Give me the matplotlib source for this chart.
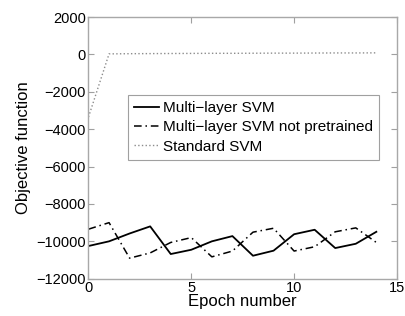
import numpy as np
import matplotlib
matplotlib.use("Agg")
from matplotlib import pyplot as plt

epochs = list(range(15))
multi_svm = [-10250, -10000, -9580, -9200, -10680, -10450, -10000, -9720,
             -10770, -10500, -9620, -9380, -10360, -10130, -9490]
multi_svm_np = [-9350, -9000, -10900, -10620, -10060, -9800, -10830, -10520,
                -9510, -9300, -10520, -10290, -9490, -9280, -10060]
standard_svm = [-3350, 30, 40, 45, 50, 55, 60, 60, 65, 70, 70, 75, 80, 80, 85]

plt.rcParams['font.family'] = ['Liberation Sans', 'DejaVu Sans']

fig = plt.figure(figsize=(4.05, 3.16), dpi=100)
ax = fig.add_axes([0.2185, 0.118, 0.7615, 0.828])

ax.plot(epochs, multi_svm, color='black', linestyle='-', linewidth=1.3,
        label='Multi\u2212layer SVM')
ax.plot(epochs, multi_svm_np, color='black', linestyle=(0, (5, 2.5, 1, 2.5)),
        linewidth=1.1, label='Multi\u2212layer SVM not pretrained')
ax.plot(epochs, standard_svm, color='#8c8c8c', linestyle=':', linewidth=1.0,
        label='Standard SVM')

ax.set_xlim(0, 15)
ax.set_ylim(-12000, 2000)
ax.set_xticks([0, 5, 10, 15])
ax.set_yticks(np.arange(-12000, 2001, 2000))
ax.tick_params(direction='in', top=True, right=True, length=4,
               color='#a0a0a0', labelsize=10.5, pad=2)
for s in ax.spines.values():
    s.set_color('#a8a8a8')
    s.set_linewidth(1.0)

ax.set_xlabel('Epoch number', fontsize=12, labelpad=-1)
ax.set_ylabel('Objective function', fontsize=12, labelpad=4)

leg = ax.legend(loc='upper left', bbox_to_anchor=(0.128, 0.702),
                borderaxespad=0, fancybox=False, framealpha=1,
                edgecolor='#a0a0a0', fontsize=11, handlelength=1.6,
                handletextpad=0.3, labelspacing=0.35, borderpad=0.4)
leg.get_frame().set_linewidth(0.8)

fig.savefig('out.png', dpi=100)
